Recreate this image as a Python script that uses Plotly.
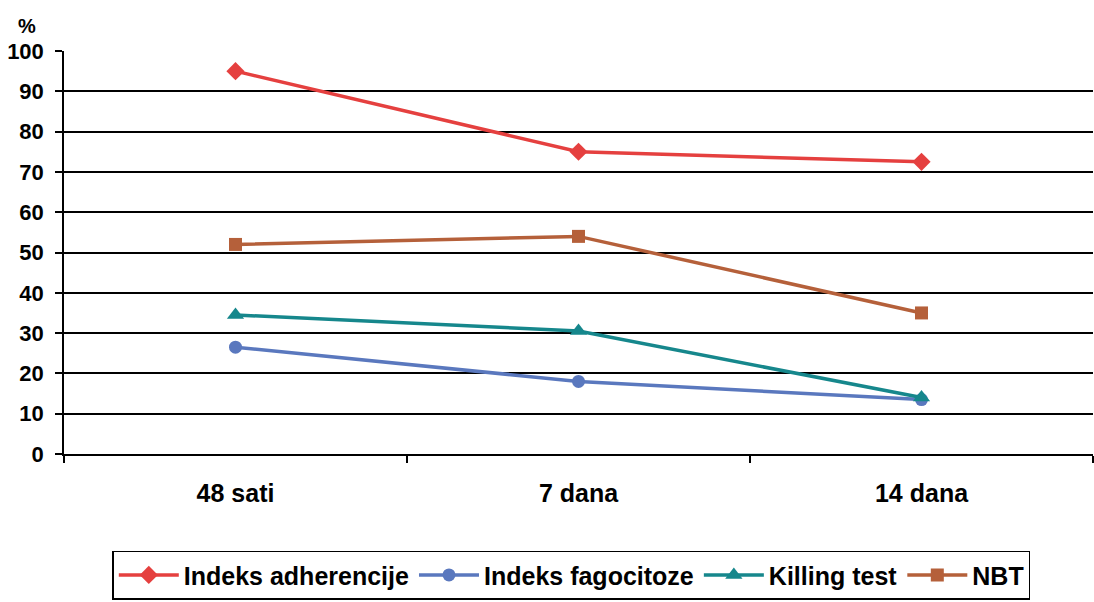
import plotly.graph_objects as go

categories = ["48 sati", "7 dana", "14 dana"]
adherencija = [95, 75, 72.5]
fagocitoza = [26.5, 18, 13.5]
killing = [34.5, 30.5, 14]
nbt = [52, 54, 35]
y_ticks = list(range(0, 101, 10))

series = [
    ("Indeks adherencije", adherencija, "#E5403F", "diamond", 14),
    ("Indeks fagocitoze", fagocitoza, "#5A78BE", "circle", 13),
    ("Killing test", killing, "#16878C", "triangle-up", 15),
    ("NBT", nbt, "#B5603A", "square", 13),
]

fig = go.Figure()
for name, vals, color, sym, size in series:
    fig.add_trace(go.Scatter(
        x=categories, y=vals, name=name, mode="lines+markers",
        line=dict(color=color, width=3.5),
        marker=dict(symbol=sym, size=size, color=color),
    ))

font_family = "Liberation Sans, Arial, sans-serif"
fig.update_layout(
    width=1094, height=602,
    margin=dict(l=64, r=1, t=51, b=148),
    paper_bgcolor="white", plot_bgcolor="white",
    font=dict(family=font_family, color="black"),
    showlegend=True,
    legend=dict(
        orientation="h", x=0.493, xanchor="center", y=-0.24, yanchor="top",
        bordercolor="black", borderwidth=1.5, bgcolor="white",
        font=dict(size=25, family=font_family, weight="bold"),
        itemwidth=60, traceorder="normal", tracegroupgap=0,
    ),
    xaxis=dict(
        type="category", range=[-0.5, 2.5], tickson="boundaries",
        ticks="outside", ticklen=7, tickcolor="black", tickwidth=1.5,
        showline=True, linecolor="black", linewidth=1.5,
        showgrid=False, tickfont=dict(size=25, weight="bold"),
        ticklabelstandoff=16, fixedrange=True,
    ),
    yaxis=dict(
        range=[0, 100], tickmode="array", tickvals=y_ticks,
        ticks="outside", ticklen=7, tickcolor="black", tickwidth=1.5,
        showline=True, linecolor="black", linewidth=1.5,
        showgrid=True, gridcolor="black", gridwidth=1.5,
        tickfont=dict(size=22, weight="bold"), zeroline=False,
        ticklabelstandoff=7,
    ),
    annotations=[dict(
        text="%", xref="paper", yref="paper", x=-0.025, y=1.03,
        xanchor="right", yanchor="bottom", showarrow=False,
        font=dict(size=20, weight="bold", family=font_family),
    )],
)

fig.write_html("out.html", config={"displayModeBar": False},
               post_script="document.body.style.margin='0';")
